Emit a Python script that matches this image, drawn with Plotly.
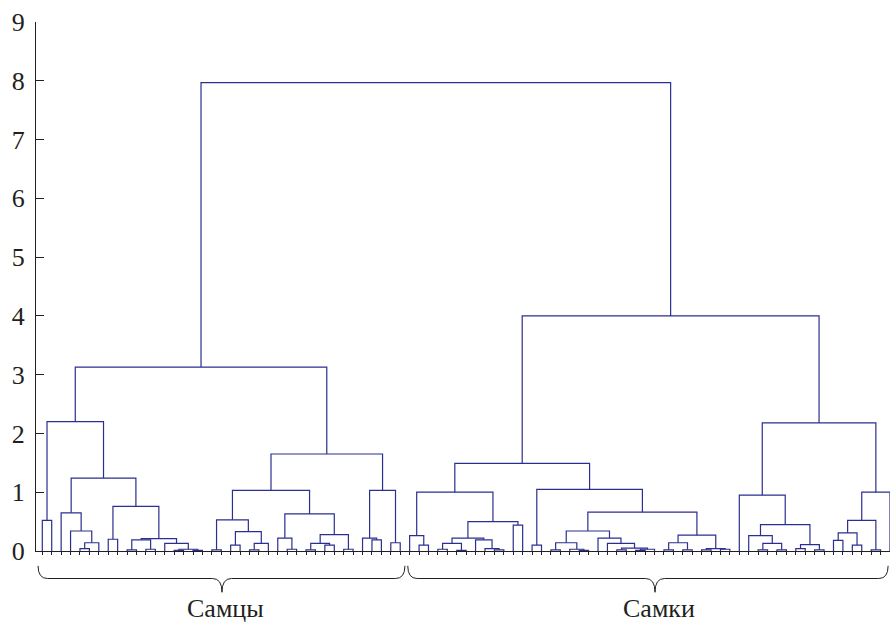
import plotly.graph_objects as go

L = 0  # leaf marker; internal node = [height, left, right]

males_a = [2.20,
    [0.52, L, L],
    [1.24,
        [0.65, L, [0.34, L, [0.14, [0.04, L, L], L]]],
        [0.76, [0.20, L, L],
               [0.21, [0.19, [0.02, L, L], [0.03, L, L]],
                      [0.13, L, [0.03, [0.01, L, L], [0.01, L, L]]]]]]]
males_b = [1.65,
    [1.03,
        [0.53, [0.02, L, L], [0.33, [0.10, L, L], [0.13, [0.02, L, L], L]]],
        [0.63, [0.22, L, [0.03, L, L]],
               [0.28, [0.13, [0.02, L, L], [0.10, L, L]], [0.03, L, L]]]],
    [1.03, [0.22, L, [0.19, L, L]], [0.14, L, L]]]
females_a = [1.49,
    [1.00, [0.26, L, [0.10, L, L]],
           [0.50, [0.22, [0.13, [0.03, L, L], [0.01, L, L]],
                         [0.19, L, [0.04, L, [0.02, L, L]]]],
                  [0.44, L, L]]],
    [1.05, [0.10, L, L],
           [0.66, [0.34, [0.14, [0.02, L, L], [0.03, L, [0.01, L, L]]],
                         [0.22, L, [0.13, L, [0.05, [0.02, L, L], [0.03, [0.01, L, L], L]]]]],
                  [0.27, [0.14, [0.02, L, L], [0.02, L, L]],
                         [0.04, [0.02, L, L], [0.03, L, L]]]]]]
females_b = [2.18,
    [0.95, L, [0.45, [0.26, L, [0.13, [0.02, L, L], [0.02, L, L]]],
                     [0.11, [0.04, L, L], [0.02, L, L]]]],
    [1.00, [0.52, [0.31, [0.18, L, L], [0.10, L, L]], [0.02, L, L]], L]]
h_males = 3.13
h_females = 4.00
h_root = 7.97

group_labels = ["Самцы", "Самки"]
y_ticks = list(range(0, 10))

males = [h_males, males_a, males_b]
females = [h_females, females_a, females_b]
tree = [h_root, males, females]

xs, ys = [], []
counter = [0]


def walk(node):
    if node == L:
        counter[0] += 1
        return counter[0], 0.0
    h, a, b = node
    xa, ha = walk(a)
    xb, hb = walk(b)
    xs.extend([xa, xa, xb, xb, None])
    ys.extend([ha, h, h, hb, None])
    return (xa + xb) / 2, h


def count(node):
    return 1 if node == L else count(node[1]) + count(node[2])


walk(tree)
n_leaves = counter[0]
n_m = count(males)

LINE = "#2b2f8f"
INK = "#231f20"
FONT = "Liberation Serif"

fig = go.Figure(go.Scatter(x=xs, y=ys, mode="lines",
                           line=dict(color=LINE, width=1.2),
                           hoverinfo="skip", showlegend=False))

# braces under the two groups (start, end, tip position in leaf units)
groups = [(1 - 0.45, n_m + 0.5), (n_m + 1 - 0.2, n_leaves - 0.2)]
tip_shift = [0.05, 0.75]
y_top, y_mid, y_tip = -0.028, -0.052, -0.078
d = 1.0
for (a, b), s, lab in zip(groups, tip_shift, group_labels):
    m = (a + b) / 2 + s
    path = (f"M {a},{y_top} Q {a},{y_mid} {a + d},{y_mid} L {m - d},{y_mid} "
            f"Q {m},{y_mid} {m},{y_tip} Q {m},{y_mid} {m + d},{y_mid} "
            f"L {b - d},{y_mid} Q {b},{y_mid} {b},{y_top}")
    fig.add_shape(type="path", path=path, xref="x", yref="paper",
                  line=dict(color=INK, width=1))
    fig.add_annotation(x=m + 0.4, y=-0.109, xref="x", yref="paper", text=lab,
                       showarrow=False, font=dict(family=FONT, size=26, color=INK),
                       yanchor="middle", xanchor="center")

fig.update_layout(
    width=890, height=624,
    margin=dict(l=36, r=0, t=22, b=73),
    plot_bgcolor="white", paper_bgcolor="white",
    xaxis=dict(range=[0.331, 91.0], showline=True, linecolor=INK, linewidth=1,
               showgrid=False, zeroline=False, showticklabels=False,
               tickvals=list(range(1, n_leaves + 1)), ticks="outside",
               ticklen=3, tickcolor=INK, tickwidth=1),
    yaxis=dict(range=[0, 9], showline=True, linecolor=INK, linewidth=1,
               showgrid=False, zeroline=False, tickvals=y_ticks,
               ticks="inside", ticklen=8, tickcolor=INK, tickwidth=1,
               tickfont=dict(family=FONT, size=26, color=INK),
               ticklabelstandoff=5),
)

fig.write_html("out.html", config={"displayModeBar": False},
               post_script="document.body.style.margin='0';"
                           "document.body.style.overflow='hidden';")
